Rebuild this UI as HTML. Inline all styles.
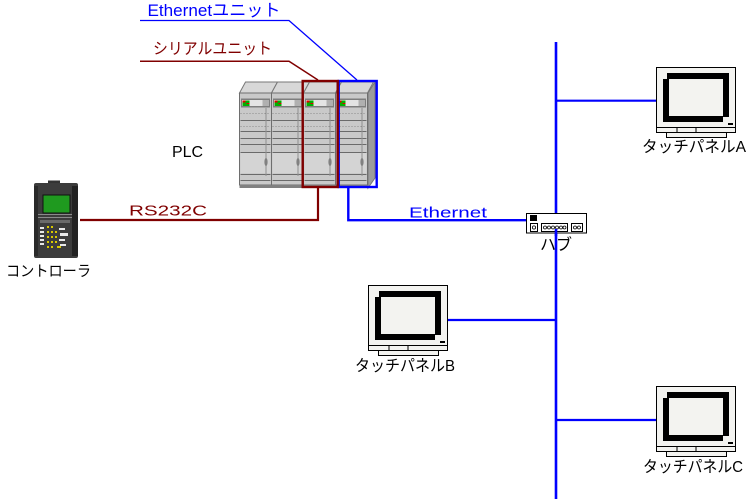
<!DOCTYPE html>
<html>
<head>
<meta charset="utf-8">
<style>
html,body{margin:0;padding:0;background:#fff;}
svg{display:block;}
text{font-family:"Liberation Sans","Noto Sans CJK JP",sans-serif;}
</style>
</head>
<body>
<svg width="753" height="502" viewBox="0 0 753 502" xmlns="http://www.w3.org/2000/svg">
<defs>
  <g id="mod">
    <polygon points="0,93 6,82 38,82 32,93" fill="#d8d8d8" stroke="#777" stroke-width="1"/>
    <rect x="0" y="93" width="32" height="92" fill="#c9c9c9" stroke="#6e6e6e" stroke-width="1"/>
    <rect x="1.5" y="98.5" width="29" height="9" fill="#7e7e7e"/>
    <rect x="2.5" y="100" width="27" height="6" fill="#e4e4e4"/>
    <rect x="23" y="100" width="6.5" height="6" fill="#b0b0b0"/>
    <rect x="3" y="100.5" width="7" height="5.5" fill="#00b000"/>
    <rect x="3" y="100.5" width="3" height="2" fill="#e00000"/>
    <rect x="7" y="103" width="3" height="1" fill="#e00000"/>
    <line x1="1" y1="113.5" x2="31" y2="113.5" stroke="#8a8a8a" stroke-dasharray="1 2"/>
    <line x1="1" y1="120.5" x2="31" y2="120.5" stroke="#6a6a6a"/>
    <line x1="1" y1="126.5" x2="31" y2="126.5" stroke="#8a8a8a" stroke-dasharray="1 2"/>
    <line x1="1" y1="131.5" x2="31" y2="131.5" stroke="#6a6a6a"/>
    <line x1="1" y1="138.5" x2="31" y2="138.5" stroke="#6a6a6a"/>
    <line x1="1" y1="144.5" x2="31" y2="144.5" stroke="#6a6a6a"/>
    <line x1="1" y1="152.5" x2="31" y2="152.5" stroke="#6a6a6a"/>
    <rect x="1" y="153" width="30" height="20" fill="#d4d4d4"/>
    <line x1="1" y1="174.5" x2="31" y2="174.5" stroke="#6a6a6a"/>
    <line x1="1" y1="180.5" x2="31" y2="180.5" stroke="#6a6a6a"/>
    <line x1="26.5" y1="108" x2="26.5" y2="176" stroke="#909090"/>
    <ellipse cx="26.5" cy="162" rx="1.6" ry="4" fill="#808080"/>
    <rect x="0" y="185" width="33" height="3" fill="#808080"/>
  </g>
  <g id="mon">
    <rect x="0.5" y="0.5" width="79" height="60" fill="#f3f3f0" stroke="#000" stroke-width="1"/>
    <rect x="11" y="6" width="62" height="6" fill="#000"/>
    <rect x="67" y="6" width="6" height="44" fill="#000"/>
    <rect x="7" y="12" width="6" height="43" fill="#000"/>
    <rect x="7" y="49" width="60" height="6" fill="#000"/>
    <rect x="13" y="12" width="54" height="37" fill="#f3f3f0"/>
    <rect x="72" y="56" width="5" height="2" fill="#000"/>
    <rect x="0.5" y="60.5" width="79" height="5" fill="#f3f3f0" stroke="#000" stroke-width="1"/>
    <line x1="21" y1="60.5" x2="21" y2="65.5" stroke="#000"/>
    <line x1="40" y1="60.5" x2="40" y2="65.5" stroke="#000"/>
    <rect x="10.5" y="65.5" width="60" height="5" fill="#f3f3f0" stroke="#000" stroke-width="1"/>
  </g>
</defs>

<!-- leader lines -->
<polyline points="140,20.5 289,20.5 357,80" fill="none" stroke="#0000ff" stroke-width="1.3"/>
<polyline points="140,61.3 289,61.3 318,80" fill="none" stroke="#800000" stroke-width="1.5"/>

<!-- labels top -->
<text x="147.5" y="16" font-size="17" fill="#0000ff" textLength="133" lengthAdjust="spacingAndGlyphs">Ethernetユニット</text>
<text x="153" y="54" font-size="16" fill="#800000" textLength="119" lengthAdjust="spacingAndGlyphs">シリアルユニット</text>
<text x="172" y="157" font-size="16" fill="#000" textLength="31" lengthAdjust="spacingAndGlyphs">PLC</text>

<!-- PLC -->
<polygon points="368,93 375,82 375,178 368,188" fill="#9c9c9c" stroke="#777" stroke-width="1"/>
<use href="#mod" x="239.5" y="0"/>
<use href="#mod" x="271.5" y="0"/>
<use href="#mod" x="303.5" y="0"/>
<use href="#mod" x="335.5" y="0"/>

<!-- unit highlight boxes -->
<rect x="338.7" y="81" width="38" height="106" fill="none" stroke="#0000ff" stroke-width="2.4"/>
<rect x="302.7" y="81" width="35" height="106" fill="none" stroke="#800000" stroke-width="2.4"/>

<!-- connections -->
<polyline points="318,188 318,220 80,220" fill="none" stroke="#800000" stroke-width="2.2"/>
<polyline points="348.3,188 348.3,220.2 526,220.2" fill="none" stroke="#0000ff" stroke-width="2.4"/>
<text x="129" y="215.7" font-size="15" fill="#800000" textLength="78" lengthAdjust="spacingAndGlyphs">RS232C</text>
<text x="409" y="217.7" font-size="15" fill="#0000ff" textLength="78" lengthAdjust="spacingAndGlyphs">Ethernet</text>

<!-- main ethernet bus -->
<line x1="556" y1="42" x2="556" y2="499" stroke="#0000ff" stroke-width="2.6"/>
<line x1="556" y1="100.7" x2="656" y2="100.7" stroke="#0000ff" stroke-width="2.2"/>
<line x1="448" y1="320" x2="556" y2="320" stroke="#0000ff" stroke-width="2.2"/>
<line x1="556" y1="420" x2="656" y2="420" stroke="#0000ff" stroke-width="2.2"/>

<!-- hub -->
<rect x="526.5" y="213.5" width="60" height="19.5" fill="#fff" stroke="#000" stroke-width="1"/>
<rect x="530" y="215" width="7" height="6" fill="#000"/>
<rect x="530.5" y="223.5" width="7" height="8" fill="#fff" stroke="#000" stroke-width="1"/>
<circle cx="534" cy="227.5" r="1.6" fill="none" stroke="#000" stroke-width="0.8"/>
<rect x="541.5" y="223.5" width="26" height="8" fill="#fff" stroke="#000" stroke-width="1"/>
<circle cx="545" cy="227.5" r="1.5" fill="none" stroke="#000" stroke-width="0.8"/>
<circle cx="549" cy="227.5" r="1.5" fill="none" stroke="#000" stroke-width="0.8"/>
<circle cx="553" cy="227.5" r="1.5" fill="none" stroke="#000" stroke-width="0.8"/>
<circle cx="557" cy="227.5" r="1.5" fill="none" stroke="#000" stroke-width="0.8"/>
<circle cx="561" cy="227.5" r="1.5" fill="none" stroke="#000" stroke-width="0.8"/>
<circle cx="564.5" cy="227.5" r="1.5" fill="none" stroke="#000" stroke-width="0.8"/>
<rect x="571.5" y="223.5" width="11" height="8" fill="#fff" stroke="#000" stroke-width="1"/>
<circle cx="575" cy="227.5" r="1.5" fill="none" stroke="#000" stroke-width="0.8"/>
<circle cx="579" cy="227.5" r="1.5" fill="none" stroke="#000" stroke-width="0.8"/>
<line x1="556" y1="229" x2="556" y2="236" stroke="#0000ff" stroke-width="2.6"/>
<text x="540" y="250" font-size="16" fill="#000" textLength="32" lengthAdjust="spacingAndGlyphs">ハブ</text>

<!-- monitors -->
<use href="#mon" x="656" y="67"/>
<use href="#mon" x="368" y="285"/>
<use href="#mon" x="656" y="386"/>
<text x="642" y="152" font-size="16" fill="#000" textLength="104" lengthAdjust="spacingAndGlyphs">タッチパネルA</text>
<text x="355" y="371" font-size="16" fill="#000" textLength="100" lengthAdjust="spacingAndGlyphs">タッチパネルB</text>
<text x="643" y="472" font-size="16" fill="#000" textLength="100" lengthAdjust="spacingAndGlyphs">タッチパネルC</text>

<!-- controller -->
<rect x="48" y="180.5" width="12" height="3" fill="#333"/>
<rect x="34" y="183" width="44" height="75" rx="2" fill="#3c3c3c"/>
<rect x="72" y="186" width="6" height="70" fill="#222"/>
<rect x="34" y="186" width="4" height="70" fill="#2a2a2a"/>
<rect x="43" y="195" width="27" height="18" fill="#1f9a1f" stroke="#111" stroke-width="1"/>
<rect x="38" y="214" width="34" height="1" fill="#8a8a8a"/>
<rect x="38" y="217" width="34" height="1" fill="#8a8a8a"/>
<rect x="40" y="220" width="30" height="3" fill="#6a6a6a"/>
<g fill="#e8e8e8">
  <rect x="40" y="227" width="4" height="2"/>
  <rect x="40" y="231" width="4" height="2"/>
  <rect x="40" y="235" width="4" height="2"/>
  <rect x="40" y="239" width="4" height="2"/>
  <rect x="40" y="243" width="4" height="2"/>
  <rect x="59" y="228" width="6" height="2"/>
  <rect x="60" y="233" width="8" height="3"/>
  <rect x="59" y="239" width="6" height="2"/>
  <rect x="60" y="244" width="6" height="2"/>
</g>
<g fill="#d8c800">
  <rect x="47" y="226" width="2" height="2"/>
  <rect x="51" y="226" width="2" height="2"/>
  <rect x="47" y="231" width="2" height="2"/>
  <rect x="51" y="231" width="2" height="2"/>
  <rect x="55" y="231" width="2" height="2"/>
  <rect x="47" y="236" width="2" height="2"/>
  <rect x="51" y="236" width="2" height="2"/>
  <rect x="55" y="236" width="2" height="2"/>
  <rect x="47" y="241" width="2" height="2"/>
  <rect x="51" y="241" width="2" height="2"/>
  <rect x="55" y="241" width="2" height="2"/>
  <rect x="47" y="246" width="2" height="2"/>
  <rect x="51" y="246" width="2" height="2"/>
  <rect x="57" y="246" width="4" height="2"/>
</g>
<text x="6" y="276" font-size="15" fill="#000" textLength="85" lengthAdjust="spacingAndGlyphs">コントローラ</text>
</svg>
</body>
</html>
